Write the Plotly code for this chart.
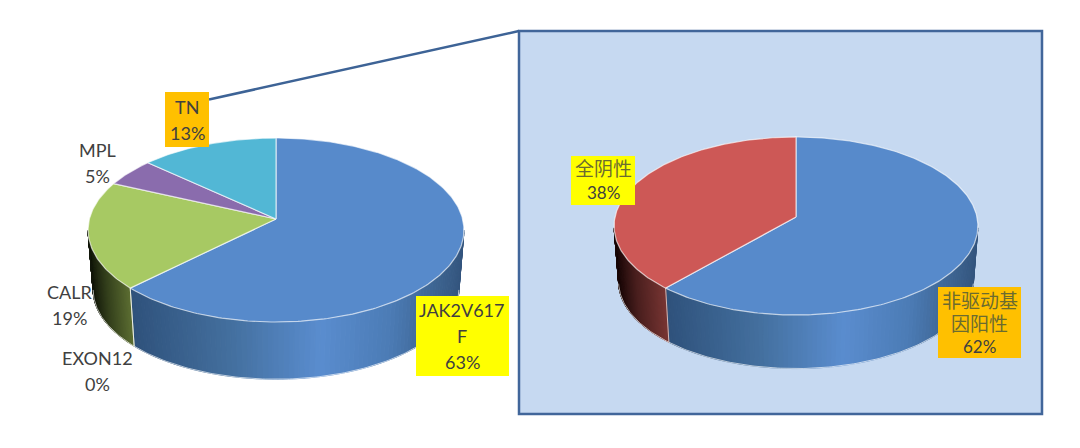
import numpy as np
import plotly.graph_objects as go

# Data (labels show them rounded)
left_labels = ["JAK2V617F", "EXON12", "CALR", "MPL", "TN"]
left_values = [62.7, 0, 19, 5, 13.3]
right_labels = ["非驱动基因阳性", "全阴性"]
right_values = [61.6, 38.4]

# Slice colours
BLUE = "#578acb"
left_colors = [BLUE, "#4f6228", "#a7c963", "#8a6cad", "#52b7d5"]
right_colors = [BLUE, "#cd5856"]

# Side wall gradients, from left to right on screen
BLUE_SIDE = [(0, "#2f527c"), (0.3, "#44709f"), (0.57, "#5a8dcf"), (0.78, "#4c7cb6"), (0.93, "#3c628e"), (1, "#34557e")]
side_left = {0: BLUE_SIDE, 2: [(0, "#12170a"), (0.4, "#34401c"), (1, "#5e7033")]}
side_right = {0: BLUE_SIDE, 1: [(0, "#180707"), (0.4, "#4a1f1e"), (1, "#7a3634")]}

EDGE = "rgba(255,255,255,0.65)"
TEXT = "#404040"
CJK_TEXT = "#6b6b30"
FONT = "Lato, 'Noto Sans CJK SC', sans-serif"
# the wall is visible between these angles
WALL_FROM, WALL_TO = 97, 263


def hex_rgb(c):
    return np.array([int(c[i:i + 2], 16) for i in (1, 3, 5)], dtype=float)


def grad(stops, t):
    for (t0, c0), (t1, c1) in zip(stops, stops[1:]):
        if t <= t1:
            f = (t - t0) / (t1 - t0)
            r = hex_rgb(c0) * (1 - f) + hex_rgb(c1) * f
            return "rgb(%d,%d,%d)" % tuple(r)
    return stops[-1][1]


def rim(theta, pie, lower=False):
    # perspective view of the round pie, theta clockwise from 12 o'clock
    cx, cy, b, a, k, depth, shrink = pie
    u, v = np.sin(np.radians(theta)), -np.cos(np.radians(theta))
    w = 1 - k * v
    s = shrink if lower else 1
    return cx + s * b * u / w, cy + s * a * v / w + (depth if lower else 0)


def poly(x, y, color, line=None, width=1):
    return go.Scatter(x=x, y=y, mode="lines", fill="toself", fillcolor=color,
                      line=dict(color=line or color, width=width), hoverinfo="skip")


def draw_pie(fig, values, colors, side, pie):
    total = sum(values)
    edges = np.cumsum([0] + values) / total * 360
    # side wall first, top faces cover the rest
    for i, stops in side.items():
        t0, t1 = max(edges[i], WALL_FROM), min(edges[i + 1], WALL_TO)
        th = np.linspace(t0, t1, 90)
        xs = rim(th, pie)[0]
        lo, hi = xs.min(), xs.max()
        for a, b in zip(th, th[1:]):
            xa, ya = rim(a, pie)
            xb, yb = rim(b, pie)
            xc, yc = rim(b, pie, True)
            xd, yd = rim(a, pie, True)
            t = ((xa + xb) / 2 - lo) / (hi - lo)
            fig.add_trace(poly([xa, xb, xc, xd, xa], [ya, yb, yc, yd, ya], grad(stops, t)))
    # light lines along the bottom of the wall and the seam
    th = np.linspace(WALL_FROM, WALL_TO, 200)
    fig.add_trace(go.Scatter(x=rim(th, pie, True)[0], y=rim(th, pie, True)[1], mode="lines",
                             line=dict(color=EDGE, width=1), hoverinfo="skip"))
    for e in edges[1:-1]:
        if WALL_FROM < e < WALL_TO:
            x0, y0 = rim(e, pie)
            x1, y1 = rim(e, pie, True)
            fig.add_trace(go.Scatter(x=[x0, x1], y=[y0, y1], mode="lines",
                                     line=dict(color=EDGE, width=1), hoverinfo="skip"))
    for i, v in enumerate(values):
        if v == 0:
            continue
        th = np.linspace(edges[i], edges[i + 1], max(int(v * 4), 8))
        x, y = rim(th, pie)
        fig.add_trace(poly([pie[0], *x, pie[0]], [pie[1], *y, pie[1]], colors[i], EDGE, 1.2))


def label(fig, lines, cx, cy, box=None, color=None, step=26, size=18):
    if box:
        fig.add_shape(type="rect", x0=box[0], y0=box[1], x1=box[2], y1=box[3],
                      fillcolor=color, line_width=0, layer="above")
    for n, line in enumerate(lines):
        cjk = ord(line[0]) > 255
        fig.add_annotation(x=cx, y=cy + n * step, text=line, showarrow=False,
                           font=dict(family=FONT, size=19 if cjk else size,
                                     color=CJK_TEXT if cjk else TEXT))


fig = go.Figure()

# Panel and connector go underneath the pies
fig.add_shape(type="rect", x0=519, y0=31, x1=1042, y1=414, fillcolor="#c6d9f1",
              line=dict(color="#41669a", width=2.5), layer="below")
fig.add_shape(type="line", x0=209, y0=99.5, x1=519, y1=31,
              line=dict(color="#3d6396", width=2.5), layer="below")

# cx, cy, b, a, k, depth, shrink
draw_pie(fig, left_values, left_colors, side_left, (276, 219, 186.6, 90.7, 0.1196, 60, 0.973))
draw_pie(fig, right_values, right_colors, side_right, (796, 217, 181, 88.1, 0.1011, 56, 0.975))

# Labels
label(fig, ["JAK2V617", "F", f"{round(left_values[0])}%"], 462, 310, (416, 296, 509, 376), "#ffff00")
label(fig, [left_labels[1], f"{round(left_values[1])}%"], 97, 358)
label(fig, [left_labels[2], f"{round(left_values[2])}%"], 69, 292)
label(fig, [left_labels[3], f"{round(left_values[3])}%"], 97, 150)
label(fig, [left_labels[4], f"{round(left_values[4])}%"], 187, 107, (165, 92, 209, 147), "#ffc000")
label(fig, [right_labels[1], f"{round(right_values[1])}%"], 603, 168, (571, 156, 635, 205), "#ffff00", 24, 17)
label(fig, ["非驱动基", "因阳性", f"{round(right_values[0])}%"], 979.5, 300, (938, 287, 1021, 358), "#ffc000", 23, 17)

fig.update_layout(
    width=1080,
    height=448,
    margin=dict(l=0, r=0, t=0, b=0),
    showlegend=False,
    plot_bgcolor="white",
    paper_bgcolor="white",
    xaxis=dict(range=[0, 1080], visible=False),
    yaxis=dict(range=[448, 0], visible=False),
)

fig.write_html("out.html", config=dict(displayModeBar=False),
               post_script="document.body.style.margin='0';")
